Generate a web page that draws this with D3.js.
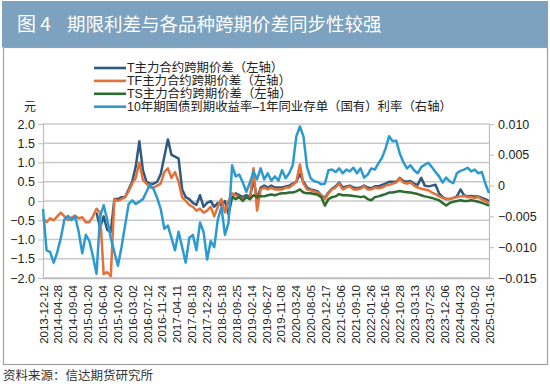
<!DOCTYPE html>
<html><head><meta charset="utf-8">
<script src="https://cdn.jsdelivr.net/npm/d3@7"></script>
<style>
body{margin:0;background:#fff;}
svg{display:block;font-family:"Liberation Sans","Noto Sans CJK SC",sans-serif;}
</style></head>
<body><svg id="c" width="550" height="384"></svg>
<script>
const titleNo = "图 4";
const titleText = "期限利差与各品种跨期价差同步性较强";
const sourceText = "资料来源：信达期货研究所";
const unitLabel = "元";
const xLabels = ["2013-12-12","2014-04-28","2014-09-04","2015-01-20","2015-06-04","2015-10-20","2016-03-02","2016-07-12","2016-11-24","2017-04-11","2017-08-18","2017-12-29","2018-05-18","2018-09-25","2019-02-14","2019-06-27","2019-11-08","2020-03-24","2020-08-05","2020-12-17","2021-05-06","2021-09-10","2022-01-26","2022-06-16","2022-10-28","2023-03-13","2023-07-25","2023-12-06","2024-04-23","2024-09-02","2025-01-16"];
const seriesNames = ["T主力合约跨期价差（左轴）","TF主力合约跨期价差（左轴）","TS主力合约跨期价差（左轴）","10年期国债到期收益率–1年同业存单（国有）利率（右轴）"];
const leftTicks = [-2,-1.5,-1,-0.5,0,0.5,1,1.5,2];
const rightTicks = [-0.015,-0.010,-0.005,0,0.005,0.010];

const TF = [-0.45,-0.55,-0.45,-0.5,-0.4,-0.3,-0.4,-0.5,-0.43,-0.38,
 -0.45,-0.42,-0.55,-0.55,-0.4,-0.2,-0.3,-1.9,-1.85,-1.95,
 0.05,0.0,0.05,0.1,0.25,0.45,0.6,1.0,0.55,0.45,
 0.35,0.35,0.4,0.45,0.75,0.85,0.6,0.75,0.5,0.1,
 0.0,-0.1,-0.15,-0.25,-0.2,-0.3,-0.25,-0.15,-0.4,-0.15,
 0.05,-0.3,0.0,0.2,0.15,0.1,0.05,0.1,0.05,0.85,
 -0.25,0.3,0.35,0.3,0.35,0.3,0.3,0.3,0.35,0.35,
 0.42,0.5,0.95,0.45,0.3,0.28,0.25,0.22,0.15,0.05,
 0.2,0.3,0.35,0.45,0.3,0.35,0.38,0.3,0.3,0.32,
 0.38,0.3,0.3,0.35,0.33,0.35,0.4,0.42,0.45,0.48,
 0.58,0.48,0.45,0.48,0.4,0.35,0.32,0.3,0.28,0.22,
 0.18,0.12,0.08,0.05,0.05,0.08,0.1,0.12,0.13,0.1,
 0.1,0.08,0.1,0.04,0.0,-0.05];

const T = [null,null,null,null,null,null,null,null,null,null,
 null,null,null,null,null,-0.3,-0.7,-0.4,-0.75,-0.8,
 0.05,0.05,0.1,0.1,0.3,0.5,0.9,1.55,0.8,0.5,
 0.45,0.45,0.5,0.7,1.15,1.6,1.2,1.15,1.1,0.3,
 0.1,0.05,-0.05,-0.1,0.15,-0.15,-0.05,0.0,-0.15,-0.05,
 -0.1,0.0,-0.35,0.1,0.2,0.15,0.1,0.15,0.1,0.55,
 0.05,0.35,0.4,0.35,0.4,0.35,0.35,0.35,0.38,0.4,
 0.45,0.5,0.7,0.5,0.35,0.3,0.28,0.25,0.15,0.08,
 0.22,0.32,0.38,0.48,0.35,0.38,0.4,0.35,0.33,0.35,
 0.4,0.35,0.33,0.38,0.38,0.42,0.45,0.5,0.5,0.5,
 0.6,0.52,0.5,0.52,0.45,0.42,0.6,0.4,0.38,0.4,
 0.42,0.2,0.1,0.05,0.05,0.08,0.12,0.3,0.15,0.12,
 0.13,0.12,0.12,0.08,0.05,0.0];

const TS = [null,null,null,null,null,null,null,null,null,null,
 null,null,null,null,null,null,null,null,null,null,
 null,null,null,null,null,null,null,null,null,null,
 null,null,null,null,null,null,null,null,null,null,
 null,null,null,null,null,null,null,null,null,null,
 null,null,null,0.1,0.05,0.1,0.0,0.1,0.05,0.15,
 0.1,0.13,0.12,0.15,0.17,0.15,0.18,0.2,0.2,0.22,
 0.22,0.25,0.3,0.22,0.2,0.2,0.18,0.16,0.1,-0.12,
 0.05,0.1,0.12,0.18,0.15,0.15,0.14,0.13,0.12,0.1,
 0.12,0.05,0.02,0.1,0.12,0.15,0.18,0.22,0.22,0.24,
 0.26,0.24,0.23,0.22,0.2,0.18,0.15,0.12,0.1,0.08,
 0.05,0.02,-0.05,-0.12,-0.05,-0.02,0.0,0.02,0.0,0.0,
 0.02,0.0,-0.02,-0.05,-0.08,-0.12];

const SPREAD = [-0.0038,-0.0105,-0.0108,-0.0125,-0.0108,-0.0085,-0.0055,-0.0049,-0.0056,-0.0050,
 -0.0075,-0.0110,-0.0080,-0.0090,-0.0115,-0.0143,-0.0050,-0.0032,-0.0055,-0.0085,
 -0.0108,-0.0130,-0.0100,-0.0065,-0.0030,-0.0024,-0.0030,-0.0026,-0.0022,-0.0010,
 0.0002,-0.0006,-0.0020,-0.0038,-0.0070,-0.0065,-0.0085,-0.0105,-0.0075,-0.0100,
 -0.0125,-0.0085,-0.0080,-0.0105,-0.0060,-0.0075,-0.0120,-0.0090,-0.0100,-0.0055,
 -0.0035,-0.0080,-0.0060,0.0033,0.0015,0.0018,0.0005,-0.0010,0.0005,0.0023,
 0.0010,0.0028,0.0010,0.0020,0.0008,0.0015,0.0008,0.0025,0.0012,0.0020,
 0.0033,0.0080,0.0096,0.0080,0.0030,0.0012,0.0007,0.0006,0.0002,0.0003,
 0.0025,0.0026,0.0022,0.0028,0.0020,0.0026,0.0023,0.0029,0.0020,0.0028,
 0.0013,0.0018,0.0028,0.0026,0.0036,0.0045,0.0060,0.0080,0.0072,0.0073,
 0.0052,0.0038,0.0028,0.0033,0.0025,0.0020,0.0030,0.0034,0.0037,0.0030,
 0.0022,0.0015,0.0005,0.0013,0.0007,0.0004,0.0020,0.0024,0.0026,0.0029,
 0.0023,0.0026,0.0020,0.0022,0.0003,-0.0012];

const colors = ["#2E5A80","#E4703A","#2E6B30","#2C9AD1"];

const svg = d3.select("#c");
svg.append("rect").attr("x",2).attr("y",1).attr("width",546).attr("height",46).attr("fill","#7CA2BF");
svg.append("text").attr("x",17).attr("y",31).attr("fill","#fff").attr("font-size",19)
  .attr("font-family","'Noto Sans CJK SC'").attr("xml:space","preserve").text(titleNo);
svg.append("text").attr("x",67).attr("y",31).attr("fill","#fff").attr("font-size",18.5)
  .attr("font-family","'Noto Sans CJK SC'").text(titleText);
svg.append("rect").attr("x",3.5).attr("y",47.5).attr("width",544).attr("height",317)
  .attr("fill","none").attr("stroke","#a0a0a0").attr("stroke-width",1.2);
svg.append("text").attr("x",3).attr("y",380).attr("fill","#333").attr("font-size",12.5)
  .attr("font-family","'Noto Sans CJK SC'").text(sourceText);

const L = 43, R = 489, TOP = 124, BOT = 278;
const n = TF.length;
const x = d3.scaleLinear().domain([0, n-1]).range([L, R]);
const yL = d3.scaleLinear().domain([-2, 2]).range([BOT, TOP]);
const yR = d3.scaleLinear().domain([-0.015, 0.010]).range([BOT, TOP]);

svg.append("g").selectAll("line").data(leftTicks).join("line")
  .attr("x1",L).attr("x2",R).attr("y1",d=>yL(d)).attr("y2",d=>yL(d))
  .attr("stroke","#c9c9c9").attr("stroke-width",1.4);

const fmtL = d => d === 0 ? "0" : d3.format(".1f")(d);
const fmtR = d => d === 0 ? "0" : d3.format(".3f")(d);

const gl = svg.append("g").attr("transform",`translate(${L},0)`)
  .call(d3.axisLeft(yL).tickValues(leftTicks).tickFormat(fmtL).tickSize(5).tickPadding(3));
const gr = svg.append("g").attr("transform",`translate(${R},0)`)
  .call(d3.axisRight(yR).tickValues(rightTicks).tickFormat(fmtR).tickSize(5).tickPadding(4));
[gl, gr].forEach(g => {
  g.select(".domain").attr("stroke","#bdbdbd").attr("stroke-width",1.2);
  g.selectAll(".tick line").attr("stroke","#bdbdbd");
  g.selectAll(".tick text").attr("font-size",12.5).attr("fill","#222")
    .attr("font-family","'Liberation Sans'");
});
const xTickVals = xLabels.map((d,i)=> i*(n-1)/(xLabels.length-1));
const gb = svg.append("g").attr("transform",`translate(0,${BOT})`)
  .call(d3.axisBottom(x).tickValues(xTickVals).tickFormat((d,i)=>xLabels[i]).tickSize(0).tickPadding(0));
gb.select(".domain").attr("stroke","#bdbdbd").attr("stroke-width",1.4);
gb.selectAll(".tick text")
  .attr("font-size",11.5).attr("fill","#222").attr("font-family","'Liberation Sans'")
  .attr("text-anchor","end").attr("dy",0)
  .attr("transform","translate(4,7) rotate(-90)");

svg.append("text").attr("x",24).attr("y",111).attr("font-size",12).attr("fill","#222")
  .attr("font-family","'Noto Sans CJK SC'").text(unitLabel);

const idx = d3.range(n);
const mk = (arr, ys) => d3.line().defined(i => arr[i] !== null).x(i => x(i)).y(i => ys(arr[i]));
const plot = svg.append("g");
[[T,yL,0],[TF,yL,1],[TS,yL,2],[SPREAD,yR,3]].forEach(([arr,ys,ci]) => {
  plot.append("path").attr("d", mk(arr,ys)(idx)).attr("fill","none")
    .attr("stroke",colors[ci]).attr("stroke-width",2.5).attr("stroke-linejoin","round");
});

const lg = svg.append("g");
seriesNames.forEach((s,i) => {
  const yy = 68 + i*12.9;
  lg.append("line").attr("x1",94).attr("x2",126).attr("y1",yy).attr("y2",yy)
    .attr("stroke",colors[i]).attr("stroke-width",2.6);
  lg.append("text").attr("x",127).attr("y",yy+4.2).attr("font-size",12.4).attr("fill","#222")
    .attr("font-family","'Liberation Sans','Noto Sans CJK SC'").text(s);
});
</script></body></html>
